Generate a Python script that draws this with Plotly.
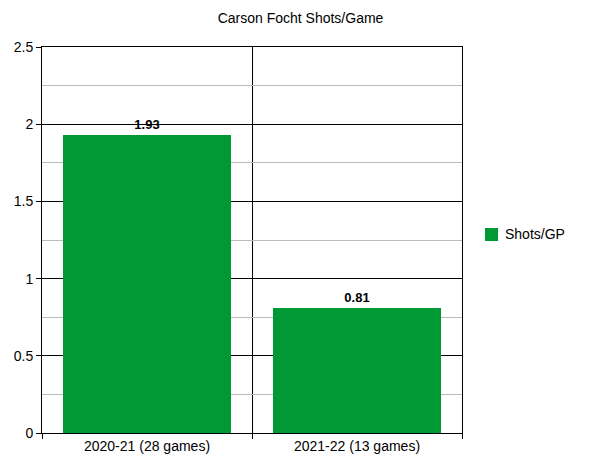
import plotly.graph_objects as go

categories = ["2020-21 (28 games)", "2021-22 (13 games)"]
shots_per_gp = [1.93, 0.81]
series_name = "Shots/GP"
title_text = "Carson Focht Shots/Game"

font_family = "Liberation Sans, Arial, sans-serif"
green = "#009933"

W, H = 600, 463
L, R, T, B = 42, 138, 47, 30
pw, ph = W - L - R, H - T - B

fig = go.Figure()
fig.add_trace(go.Bar(
    x=list(range(len(categories))),
    y=shots_per_gp,
    name=series_name,
    marker=dict(color=green, line=dict(width=0)),
    width=0.8,
    text=[f"{v:.2f}" for v in shots_per_gp],
    textposition="outside",
    textfont=dict(family=font_family, size=13, color="#000000"),
    texttemplate="<b>%{text}</b>",
    cliponaxis=False,
    showlegend=False,
))

# custom legend (square + label), positioned in paper coordinates
sq_x0, sq_x1 = 485, 498
sq_y0, sq_y1 = 228, 241
fig.add_shape(type="rect", xref="paper", yref="paper",
              x0=(sq_x0 - L) / pw, x1=(sq_x1 - L) / pw,
              y0=(H - B - sq_y1) / ph, y1=(H - B - sq_y0) / ph,
              fillcolor=green, line=dict(width=0))
fig.add_annotation(xref="paper", yref="paper",
                   x=(503 - L) / pw, y=(H - B - 234.5) / ph,
                   xanchor="left", yanchor="middle", showarrow=False,
                   text=series_name, font=dict(size=14, color="#000000"))

fig.update_layout(
    width=W, height=H,
    margin=dict(l=L, r=R, t=T, b=B, autoexpand=False),
    paper_bgcolor="white", plot_bgcolor="white",
    font=dict(family=font_family, size=14, color="#000000"),
    title=dict(text=title_text, x=300.5 / W, xanchor="center", y=1 - 18 / H, yanchor="middle",
               yref="container", font=dict(size=14, color="#000000")),
    bargap=0.2,
    showlegend=False,
)

fig.update_xaxes(
    range=[-0.5, len(categories) - 0.5],
    tickmode="array",
    tickvals=list(range(len(categories))),
    ticktext=categories,
    ticks="",
    showgrid=False,
    zeroline=False,
    showline=True,
    mirror=True,
    linecolor="#000000",
    linewidth=1,
    automargin=False,
    minor=dict(tick0=-0.5, dtick=1, showgrid=True, gridcolor="#000000", gridwidth=1,
               ticks="outside", ticklen=5, tickcolor="#000000"),
    tickfont=dict(size=14),
)
fig.update_yaxes(
    range=[0, 2.5],
    dtick=0.5,
    tick0=0,
    ticks="outside",
    ticklen=5,
    tickcolor="#000000",
    showgrid=True,
    gridcolor="#000000",
    gridwidth=1,
    zeroline=True,
    zerolinecolor="#000000",
    zerolinewidth=1,
    showline=True,
    mirror=True,
    linecolor="#000000",
    linewidth=1,
    automargin=False,
    minor=dict(dtick=0.25, showgrid=True, gridcolor="#bbbbbb", gridwidth=1, ticks=""),
    tickfont=dict(size=14),
)

fig.write_html("out.html", config={"displayModeBar": False},
               post_script="document.body.style.margin='0';")
